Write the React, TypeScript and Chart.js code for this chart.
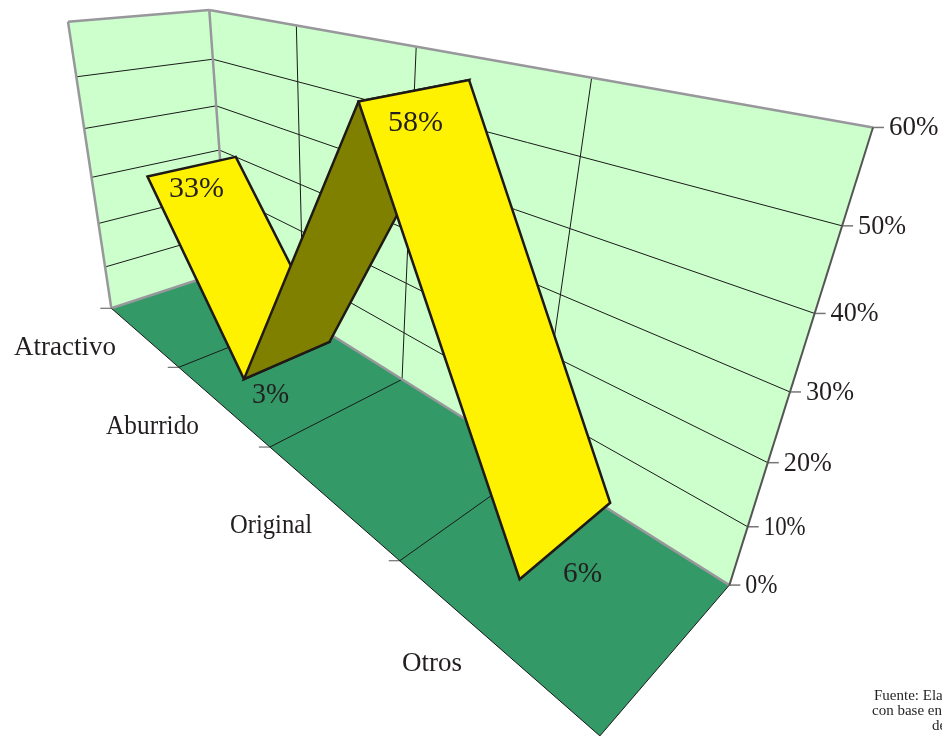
import React, { useEffect, useRef } from "react";
import { Chart, registerables } from "chart.js";

Chart.register(...registerables);

const categories = ["Atractivo", "Aburrido", "Original", "Otros"];
const shares = [33, 3, 58, 6];
const valueTicks = [0, 10, 20, 30, 40, 50, 60];

// Camera calibration: world [x (0..4), y (0..1), z (0..1)] -> screen position, with a fit weight
const CALIB: number[][] = [
  [0, 0, 0, 111, 308, 4], [1, 0, 0, 178, 368, 1], [2, 0, 0, 269, 447, 1], [3, 0, 0, 400, 562, 1], [4, 0, 0, 600, 736, 5],
  [0, 0, 1, 229, 270, 1], [1, 0, 1, 302, 316, 1], [2, 0, 1, 403, 379, 1], [3, 0, 1, 554, 475, 1], [4, 0, 1, 729, 585, 8],
  [4, 1 / 6, 1, 748, 527, 2], [4, 2 / 6, 1, 768, 463, 2], [4, 3 / 6, 1, 791, 391, 2], [4, 4 / 6, 1, 815, 313, 2], [4, 5 / 6, 1, 842, 227, 2], [4, 1, 1, 873, 127, 5],
  [0, 1 / 6, 0, 106, 266, 1], [0, 2 / 6, 0, 100, 223, 1], [0, 3 / 6, 0, 93, 177, 1], [0, 4 / 6, 0, 85, 129, 1], [0, 5 / 6, 0, 77, 77, 1], [0, 1, 0, 68, 22, 4],
  [0, 1, 1, 209, 10, 4], [0, 5 / 6, 1, 213, 59, 1], [0, 4 / 6, 1, 218, 106, 1], [0, 3 / 6, 1, 220, 150, 1],
  [1, 1, 1, 296, 27, 1], [2, 1, 1, 415, 47, 1], [3, 1, 1, 591, 78, 1],
];

function solveCamera(): number[] {
  const n = 11;
  const A = Array.from({ length: n }, () => new Array(n + 1).fill(0));
  const add = (row: number[], rhs: number, w: number) => {
    for (let i = 0; i < n; i++) {
      for (let j = 0; j < n; j++) A[i][j] += w * row[i] * row[j];
      A[i][n] += w * row[i] * rhs;
    }
  };
  for (const [X, Y, Z, pu, pv, w] of CALIB) {
    const u = pu / 1000;
    const v = pv / 1000;
    add([X, Y, Z, 1, 0, 0, 0, 0, -u * X, -u * Y, -u * Z], u, w * w);
    add([0, 0, 0, 0, X, Y, Z, 1, -v * X, -v * Y, -v * Z], v, w * w);
  }
  for (let c = 0; c < n; c++) {
    let p = c;
    for (let r = c + 1; r < n; r++) if (Math.abs(A[r][c]) > Math.abs(A[p][c])) p = r;
    [A[c], A[p]] = [A[p], A[c]];
    for (let r = 0; r < n; r++) {
      if (r === c) continue;
      const f = A[r][c] / A[c][c];
      for (let k = c; k <= n; k++) A[r][k] -= f * A[c][k];
    }
  }
  return A.map((row, i) => row[n] / row[i]);
}

const CAM = solveCamera();
const project = (X: number, Y: number, Z: number): [number, number] => {
  const w = CAM[8] * X + CAM[9] * Y + CAM[10] * Z + 1;
  return [
    (1000 * (CAM[0] * X + CAM[1] * Y + CAM[2] * Z + CAM[3])) / w,
    (1000 * (CAM[4] * X + CAM[5] * Y + CAM[6] * Z + CAM[7])) / w,
  ];
};

const RIBBON_FRONT = 0.17;
const RIBBON_BACK = 0.83;
const FONT = '27px "Liberation Serif", serif';
const DATA_FONT = '30px "Liberation Serif", serif';
const INK = "#231f20";
const GRID = "#1a1a1a";
const EDGE = "#98989c";

const categoryLabelPos = [[14, 355, 103], [106, 434, 93], [230, 533, 82], [402, 671, 62]];
const dataLabelPos = [[169, 197, 56], [252, 403, 37], [388, 131, 56], [563, 582, 39]];
const tickLabelWidths = [32, 42, 48, 48, 48, 48, 50];
const sourceLines: [string, number, number][] = [
  ["Fuente: Ela", 874, 700],
  ["con base en", 872, 715],
  ["de", 932, 730],
];

const ribbonPlugin = {
  id: "ribbon3d",
  beforeDatasetsDraw(chart: any) {
    const { ctx, scales } = chart;
    const xS = scales.x;
    const yS = scales.y;
    const worldX = (i: number) => ((xS.getPixelForValue(i) - xS.left) / xS.width) * categories.length;
    const worldY = (v: number) => (yS.bottom - yS.getPixelForValue(v)) / yS.height;
    const n = categories.length;

    const poly = (pts: [number, number][], fill: string | null, stroke?: string, lw = 1) => {
      ctx.beginPath();
      pts.forEach((p, i) => (i ? ctx.lineTo(p[0], p[1]) : ctx.moveTo(p[0], p[1])));
      ctx.closePath();
      if (fill) {
        ctx.fillStyle = fill;
        ctx.fill();
      }
      if (stroke) {
        ctx.strokeStyle = stroke;
        ctx.lineWidth = lw;
        ctx.lineJoin = "miter";
        ctx.stroke();
      }
    };
    const line = (a: [number, number], b: [number, number], color: string, lw: number) => {
      ctx.beginPath();
      ctx.moveTo(a[0], a[1]);
      ctx.lineTo(b[0], b[1]);
      ctx.strokeStyle = color;
      ctx.lineWidth = lw;
      ctx.stroke();
    };

    ctx.save();
    // walls and floor
    poly([project(0, 0, 0), project(0, 1, 0), project(0, 1, 1), project(0, 0, 1)], "#ccffcc");
    poly([project(0, 0, 1), project(0, 1, 1), project(n, 1, 1), project(n, 0, 1)], "#ccffcc");
    poly([project(0, 0, 0), project(n, 0, 0), project(n, 0, 1), project(0, 0, 1)], "#339966");

    // grid
    for (const t of valueTicks) {
      const y = worldY(t);
      if (t > 0 && t < 60) {
        line(project(0, y, 0), project(0, y, 1), GRID, 1);
        line(project(0, y, 1), project(n, y, 1), GRID, 1);
      }
      const p = project(n, y, 1);
      line(p, [p[0] + 11, p[1]], "#777", 1.5);
    }
    for (let i = 1; i < n; i++) {
      line(project(i, 1, 1), project(i, 0, 1), GRID, 1);
      line(project(i, 0, 1), project(i, 0, 0), GRID, 1);
    }
    for (let i = 0; i < n; i++) {
      const p = project(i, 0, 0);
      line([p[0] - 11, p[1]], p, "#555", 1);
    }

    // wall edges
    const top = worldY(60);
    line(project(0, 0, 0), project(0, top, 0), EDGE, 2.5);
    line(project(0, top, 0), project(0, top, 1), EDGE, 2.5);
    line(project(0, top, 1), project(0, 0, 1), EDGE, 2.5);
    line(project(0, top, 1), project(n, top, 1), EDGE, 2.5);
    line(project(0, 0, 0), project(0, 0, 1), EDGE, 2.5);
    line(project(0, 0, 1), project(n, 0, 1), EDGE, 2.5);
    line(project(n, top, 1), project(n, 0, 1), "#555", 2);
    line(project(0, 0, 0), project(n, 0, 0), GRID, 1);
    line(project(n, 0, 0), project(n, 0, 1), GRID, 1);

    // ribbon
    for (let i = 0; i < shares.length - 1; i++) {
      const x0 = worldX(i);
      const x1 = worldX(i + 1);
      const y0 = worldY(shares[i]);
      const y1 = worldY(shares[i + 1]);
      const rising = shares[i + 1] > shares[i];
      poly(
        [project(x0, y0, RIBBON_FRONT), project(x0, y0, RIBBON_BACK), project(x1, y1, RIBBON_BACK), project(x1, y1, RIBBON_FRONT)],
        rising ? "#808000" : "#fff200",
        "#1f1a17",
        2.5
      );
    }

    // text
    ctx.font = FONT;
    ctx.fillStyle = INK;
    ctx.textBaseline = "alphabetic";
    ctx.textAlign = "left";
    categories.forEach((c, i) => ctx.fillText(c, categoryLabelPos[i][0], categoryLabelPos[i][1], categoryLabelPos[i][2]));
    valueTicks.forEach((t, i) => {
      const p = project(n, worldY(t), 1);
      ctx.fillText(`${t}%`, p[0] + 16, p[1] + 8, tickLabelWidths[i]);
    });
    ctx.font = DATA_FONT;
    shares.forEach((v, i) => ctx.fillText(`${v}%`, dataLabelPos[i][0], dataLabelPos[i][1], dataLabelPos[i][2]));
    ctx.font = '15px "Liberation Serif", serif';
    for (const [s, x, y] of sourceLines) ctx.fillText(s, x, y);
    ctx.restore();
  },
};

export default function App() {
  const ref = useRef<HTMLCanvasElement | null>(null);
  useEffect(() => {
    document.body.style.margin = "0";
    const chart = new Chart(ref.current!, {
      type: "line",
      data: {
        labels: categories,
        datasets: [{ data: shares, borderWidth: 0, pointRadius: 0, borderColor: "transparent" }],
      },
      options: {
        animation: false,
        responsive: false,
        layout: { padding: 0 },
        plugins: { legend: { display: false }, tooltip: { enabled: false } },
        scales: {
          x: { display: false, offset: true },
          y: { display: false, min: 0, max: 60, ticks: { stepSize: 10 } },
        },
      },
      plugins: [ribbonPlugin],
    });
    return () => chart.destroy();
  }, []);
  return <canvas ref={ref} width={942} height={736} style={{ display: "block" }} />;
}
